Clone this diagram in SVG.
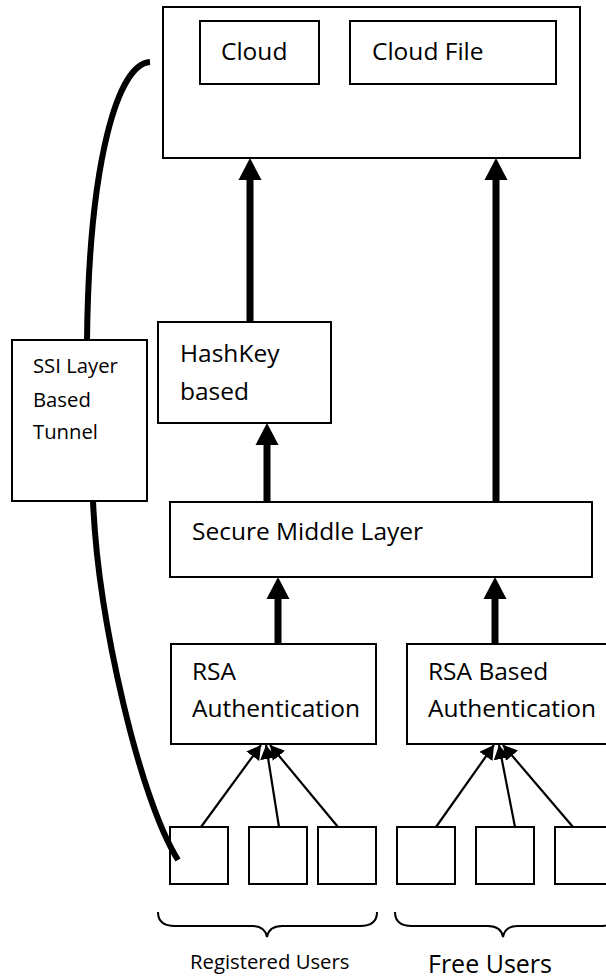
<svg xmlns="http://www.w3.org/2000/svg" width="606" height="980" viewBox="0 0 606 980">
  <style>
    .box { fill: #fff; stroke: #000; stroke-width: 2; }
    .lbl { font-family: "Open Sans", "DejaVu Sans", sans-serif; font-size: 24.5px; fill: #000; }
    .sm { font-size: 20.3px; }
    .big { font-size: 25px; }
    .shaft { stroke: #000; stroke-width: 7; fill: none; }
    .head { fill: #000; }
    .thin { stroke: #000; stroke-width: 2.2; fill: none; marker-end: url(#tip); }
    .tunnel { stroke: #000; stroke-width: 6; fill: none; }
    .brace { stroke: #000; stroke-width: 2; fill: none; }
  </style>
  <defs>
    <marker id="tip" markerUnits="userSpaceOnUse" markerWidth="16" markerHeight="16" refX="14" refY="8" orient="auto">
      <path d="M0,0 L14,8 L0,16 Z" fill="#000"/>
    </marker>
  </defs>
  <rect width="606" height="980" fill="#fff"/>

  <!-- Cloud container -->
  <g id="cloud-server">
    <rect class="box" x="163" y="7" width="417" height="151"/>
  </g>
  <g id="cloud">
    <rect class="box" x="200" y="21" width="119" height="63"/>
    <text class="lbl" x="221" y="60">Cloud</text>
  </g>
  <g id="cloud-file">
    <rect class="box" x="350" y="21" width="206" height="63"/>
    <text class="lbl" x="372" y="60">Cloud File</text>
  </g>

  <g id="hashkey">
    <rect class="box" x="158" y="322" width="173" height="101"/>
    <text class="lbl" x="180" y="362">HashKey</text>
    <text class="lbl" x="180" y="400">based</text>
  </g>

  <g id="ssi-tunnel">
    <rect class="box" x="12" y="340" width="135" height="161"/>
    <text class="lbl sm" x="33" y="373">SSI Layer</text>
    <text class="lbl sm" x="33" y="407">Based</text>
    <text class="lbl sm" x="33" y="439">Tunnel</text>
  </g>

  <g id="secure-middle-layer">
    <rect class="box" x="170" y="502" width="422" height="75"/>
    <text class="lbl" x="192" y="540">Secure Middle Layer</text>
  </g>

  <g id="rsa-auth">
    <rect class="box" x="171" y="644" width="205" height="100"/>
    <text class="lbl" x="192" y="680">RSA</text>
    <text class="lbl" x="192" y="717">Authentication</text>
  </g>
  <g id="rsa-based-auth">
    <rect class="box" x="407" y="644" width="210" height="100"/>
    <text class="lbl" x="428" y="680">RSA Based</text>
    <text class="lbl" x="428" y="717">Authentication</text>
  </g>

  <g id="registered-users">
    <rect class="box" x="170" y="827" width="58" height="57"/>
    <rect class="box" x="249" y="827" width="58" height="57"/>
    <rect class="box" x="318" y="827" width="58" height="57"/>
    <path class="brace" d="M158,912 Q158,926 175,926 L252,926 Q265,926 267,937 Q269,926 282,926 L360,926 Q377,926 377,912"/>
    <text class="lbl sm" x="190" y="969">Registered Users</text>
  </g>
  <g id="free-users">
    <rect class="box" x="397" y="827" width="58" height="57"/>
    <rect class="box" x="476" y="827" width="58" height="57"/>
    <rect class="box" x="555" y="827" width="60" height="57"/>
    <path class="brace" d="M395,912 Q395,926 412,926 L488,926 Q501,926 503,937 Q505,926 518,926 L600,926 Q617,926 617,912"/>
    <text class="lbl big" x="428" y="973">Free Users</text>
  </g>

  <g id="connectors">
    <!-- thick arrows -->
    <line class="shaft" x1="250" y1="322" x2="250" y2="175"/>
    <path class="head" d="M250,158 L261.5,180 L238.5,180 Z"/>
    <line class="shaft" x1="496" y1="502" x2="496" y2="175"/>
    <path class="head" d="M496,158 L507.5,180 L484.5,180 Z"/>
    <line class="shaft" x1="267" y1="502" x2="267" y2="440"/>
    <path class="head" d="M267,423 L278.5,445 L255.5,445 Z"/>
    <line class="shaft" x1="278" y1="644" x2="278" y2="594"/>
    <path class="head" d="M278,577 L289.5,599 L266.5,599 Z"/>
    <line class="shaft" x1="495" y1="644" x2="495" y2="594"/>
    <path class="head" d="M495,577 L506.5,599 L483.5,599 Z"/>

    <!-- user links -->
    <line class="thin" x1="201" y1="827" x2="261" y2="745"/>
    <line class="thin" x1="279" y1="827" x2="266" y2="745"/>
    <line class="thin" x1="338" y1="827" x2="270" y2="745"/>
    <line class="thin" x1="436" y1="827" x2="494" y2="745"/>
    <line class="thin" x1="515" y1="827" x2="499" y2="745"/>
    <line class="thin" x1="573" y1="827" x2="503" y2="745"/>

    <!-- tunnel curve -->
    <path class="tunnel" d="M150,62 C118,64 89,160 87,340"/>
    <path class="tunnel" d="M93,501 C98,620 140,800 178,860"/>
  </g>
</svg>
